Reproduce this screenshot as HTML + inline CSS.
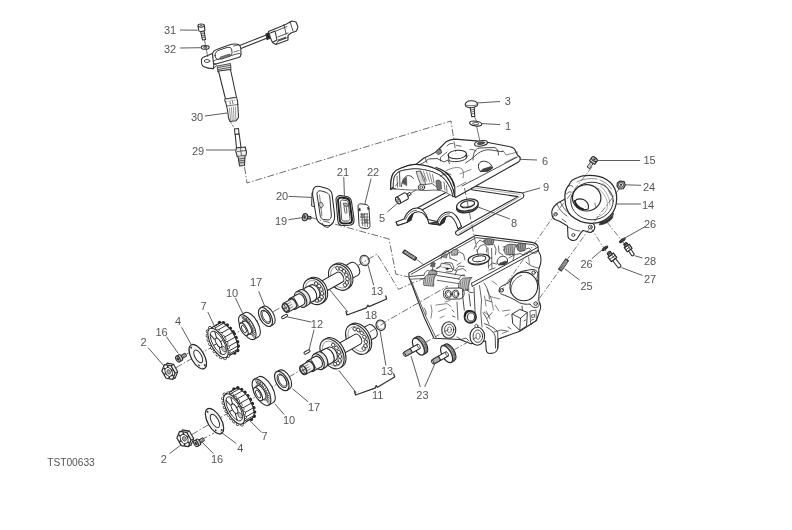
<!DOCTYPE html>
<html><head><meta charset="utf-8"><style>
html,body{margin:0;padding:0;background:#fff;width:792px;height:530px;overflow:hidden}
svg{display:block;filter:blur(0.4px)}
text{font-family:"Liberation Sans",sans-serif;font-size:11px;fill:#555}
</style></head><body>
<svg width="792" height="530" viewBox="0 0 792 530">
<rect width="792" height="530" fill="#fff"/>
<g stroke="#444" stroke-width="0.78" fill="none" stroke-dasharray="7,2,1.5,2" stroke-linecap="butt">
  <path d="M165,374 L284,305.5"/>
  <path d="M181,441 L300,370.5"/>
  <path d="M183,356 L196,349"/>
  <path d="M201,440 L214,433"/>
            
  
</g>

<!-- coil 30 -->
<g stroke="#333" stroke-width="1.08" fill="#fff" stroke-linejoin="round" stroke-linecap="round">
  <!-- wire -->
  <path d="M237,46.5 L267.5,34.5 L268.5,37.5 L238.5,49.5 Z" fill="#fff"/>
  <path d="M266,34 L270,32 L271,38 L267,39.5 Z" fill="#222"/>
  <!-- connector -->
  <path d="M268.5,31.5 L282,26 L286.5,24 L292,21 L296,22 L298,27 L296.5,31 L291,33 L288,35.5 L288,40 L276,44.5 L272.5,42.5 L270.5,38 Z" fill="#fff"/>
  <path d="M270.5,33 L275,31 L277,40 L273,42" fill="none"/>
  <path d="M276,31 L287,26.5 M278,37 L288,33 M284,24.5 L286,34 M290,21.5 L293,31 M276,44.5 L278,41 L288,37.5" fill="none" stroke-width="0.84"/>
  <path d="M278,39.5 L286,36.5 L286,38.5 L278,41.5 Z" fill="#555" stroke="none"/>
  <!-- flange bracket -->
  <path d="M201.5,61 C201,59 202,57.8 204,57 L212.5,53.4 L214,62 L213.5,68.6 C210,68.5 205,67.5 202.8,66 C201.5,64.8 201.3,63 201.5,61 Z"/>
  <ellipse cx="207" cy="61" rx="2.8" ry="1.5" fill="#fff" stroke-width="0.84"/>
  <path d="M212.5,53.5 C213,51.5 215,50 218,49 L229,45 C232,44 236,43.8 238.5,44.6 C240,45.2 240.6,46.5 240.8,48.5 L241,54.5 C241,56 240,57 238.5,57.5 L216,64 C214.5,64.4 213.5,63.5 213.3,62 Z"/>
  <path d="M213.3,61.5 C214,60.5 215.5,60 217,59.6 L238,53.6 C239.5,53.2 240.6,53.8 241,54.5" fill="none" stroke-width="0.84"/>
  <path d="M215,55.5 C214.8,53 216.5,51 219.5,50 L226,47.8 C229.5,46.8 231.5,47.6 231.8,50 L232,52.5 C232,54.5 230.5,55.6 228,56.4 L219,59 C216.5,59.6 215.2,58.2 215,55.5 Z" fill="#fff" stroke-width="0.96"/>
  <path d="M220.5,57 L229.5,54 L229.8,56.5 L221,59.3 Z" fill="#777" stroke-width="0.60"/>
  <path d="M233.5,46 L238.5,45 M234,52 L239,50.5" fill="none" stroke-width="0.72"/>
  <path d="M213.5,68.6 L216.5,65.5 M213.5,64 L216,64" fill="none" stroke-width="0.84"/>
  <!-- tube -->
  <path d="M217.5,66 L230.5,63.5 L231,70 L218.2,72 Z" fill="#ddd" stroke-width="0.84"/>
  <path d="M218,67.5 L230.5,65.3 M218,69.5 L230.8,67.3" fill="none" stroke-width="0.72"/>
  <path d="M218.5,71 L225.5,99 L236.5,97.5 L230.5,69.5 Z"/>
  <path d="M225,99 L236.8,97.3 L237.2,100.3 L225.4,102 Z" fill="#eee" stroke-width="0.84"/>
  <path d="M225.5,101.5 L227.5,110 L228.5,118 L230,121.5 L236,120.8 L238.5,117.5 L238,109 L237.5,100" fill="#fff"/>
  <path d="M227,106 L238,104.5" fill="none" stroke-width="0.72"/>
  <path d="M229.5,108 L230.5,120 M231.5,107.5 L232.2,120.5 M233.5,107.2 L234,120.5 M235.5,107 L235.8,120" fill="none" stroke-width="0.60" stroke="#555"/>
  <path d="M230,101.6 L230.4,104 M232.5,101.3 L233,103.7" fill="none" stroke-width="0.72"/>
</g>
<!-- screw 31 + washer 32 -->
<g stroke="#333" stroke-width="1.08" fill="#fff" stroke-linejoin="round">
  <path d="M200.5,31 L202.5,40 L205.5,39.5 L204,30.5 Z" fill="#eee"/>
  <path d="M201.3,33.5 L204.5,33 M201.7,35.5 L204.8,35 M202.1,37.5 L205.1,37" fill="none" stroke-width="0.72"/>
  <path d="M198,26 L198.8,30.8 C199.5,31.8 204,31.6 204.9,30.4 L204.3,25.4 Z" fill="#fff"/>
  <ellipse cx="201.2" cy="25.6" rx="3.2" ry="1.6" fill="#fff"/>
  <ellipse cx="201.2" cy="25.6" rx="1.2" ry="0.7" fill="#444" stroke="none"/>
  <ellipse cx="205.2" cy="47.4" rx="4" ry="1.8" fill="#fff"/>
  <ellipse cx="205.2" cy="47.3" rx="1.6" ry="0.8" fill="#fff" stroke-width="0.84"/>
</g>
<!-- spark plug 29 -->
<g stroke="#333" stroke-width="1.08" fill="#fff" stroke-linejoin="round">
  <path d="M234.5,129 L238.5,128.5 L239,134 L235,134.5 Z"/>
  <path d="M235.2,134.5 L236.5,148 L241,147.5 L239.2,134 Z"/>
  <path d="M236.3,148 L235.8,151 L237.2,156.5 L246,155.5 L246.5,152 L245.2,147 Z" fill="#eee"/>
  <path d="M237,151.5 L246,150.5 M240.5,148 L241.5,156" fill="none" stroke-width="0.72"/>
  <path d="M238,156.5 L239.5,166 L244.5,165.5 L245,156" fill="#ccc"/>
  <path d="M238.5,159 L244.8,158.3 M238.8,161 L244.9,160.3 M239.1,163 L244.9,162.3" fill="none" stroke-width="0.72"/>
</g>
<!-- leaders -->
<g stroke="#555" stroke-width="0.96" fill="none">
  <path d="M180,30 L197.5,30.2"/>
  <path d="M180,48 L200.8,47.7"/>
  <path d="M205,116 L227,113"/>
  <path d="M206,150 L236,150"/>
  <path d="M204.5,40 L207.8,57" stroke="#444" stroke-width="0.72"/>
  <path d="M230.5,122 L234.5,128.5" stroke="#444" stroke-width="0.72" stroke-dasharray="2,1.5"/>
</g>

<!-- gasket 9 (behind cover) -->
<g stroke="#2a2a2a" stroke-width="1.08" fill="none" stroke-linejoin="round" stroke-linecap="round">
  <path d="M417.8,207.8 L452,189.2 L453.6,192.6 L419.8,211.2 Z" fill="#fff"/>
  <path d="M472,185.8 L521.6,192.8 C524,193.3 524.6,196.6 522.8,197.9 L459.3,234.8 C456.4,236.2 454.5,233.2 456.3,231.2 L518,196.6 L471.6,189.8 Z" fill="#fff"/>
  <path d="M472,187.6 L520,194.4 M459.5,232.8 L520.5,196.4" stroke-width="0.60" stroke="#777"/>
  <!-- arches -->
  <path d="M396,222 L404,219 C406,213 411,208 417,208 C422,208 426,213 428,219.5 L437,221.5 C440,215 444,211.5 449.5,212 C455,212.5 459,219 461.5,226.5 L458,229 C456,222 453,216.5 449,216 C445,215.8 442,219.5 440,225 L429,223.5 C427,216.5 423,212 418.5,211.8 C413,211.6 409.5,216 407,222.5 L397.5,225.5 Z" fill="#fff"/>
  <path d="M405.5,219.5 C407.5,214.5 411.5,210.5 416.5,210.3 M438.5,221.8 C441,216.5 445,213.5 449.5,213.8" stroke-width="0.72"/>
  <path d="M407,222.5 C408,218.5 410,215.5 413,214 L411,220 Z M440,225 C441,221 443,218 446,216.8 L444,222.5 Z" fill="#333"/>
  <path d="M429,223.5 L437,221.5 L440,225 L429,223.5" fill="#555"/>
  <path d="M396,222 L397.5,225.5 L404.5,223.3" stroke-width="0.72"/>
</g>
<!-- seal 8 -->
<g stroke="#2a2a2a" stroke-width="1.20" fill="#fff">
  <ellipse cx="467.4" cy="206.8" rx="11" ry="5.8" transform="rotate(-12 467.4 206.8)" fill="#666"/>
  <ellipse cx="467.4" cy="205" rx="11" ry="5.8" transform="rotate(-12 467.4 205)"/>
  <ellipse cx="467.6" cy="204.2" rx="7.2" ry="3.3" transform="rotate(-12 467.6 204.2)" fill="#fff"/>
  <path d="M460.5,206 C463,207.8 471,207.5 475,203.5" fill="none" stroke-width="0.72"/>
</g>
<!-- part 5 -->
<g transform="translate(398 200.5) rotate(-29.5)" stroke="#2a2a2a" stroke-width="1.08" fill="#fff" stroke-linejoin="round">
  <path d="M9,-1.3 L14.5,-1.3 L14.5,1.3 L9,1.3 Z" fill="#fff" stroke-width="0.84"/>
  <path d="M11,-1.3 L11,1.3 M12.5,-1.3 L12.5,1.3" stroke-width="0.60" fill="none"/>
  <path d="M0,-3.6 L9,-3.6 A1.8,3.6 0 0 1 9,3.6 L0,3.6 Z" fill="#fff"/>
  <ellipse cx="0" cy="0" rx="2" ry="3.6" fill="#fff"/>
  <ellipse cx="0.1" cy="0" rx="1" ry="1.8" fill="#fff" stroke-width="0.72"/>
</g>
<!-- cam cover 6 -->
<g stroke="#2a2a2a" stroke-width="1.20" fill="#fff" stroke-linejoin="round" stroke-linecap="round">
  <path d="M390.7,189.5 C390.5,183 391.2,177 393.3,173.3 C398,168.5 408,165.2 416,164.4 L424,158 C430,155.5 436,153 439,149 L446,141.8 C449,140 452,139.2 455,139.2 L476,140.8 L488,142.5 L509,146.5 C512,147 514,148 515,150 L517.5,155 C519,156 520.5,157 520.3,159 C520,160.5 519.5,161.5 518.5,162 L456,197.3 C455.3,197.6 454.8,197.2 454.8,196.3 L454.8,187 C454,182 452,178 447,173 C443,170 440,168.5 436,167.5 L440,169 C447,172 452,178 454,186" />
  <!-- arch face -->
  <path d="M390.7,189.5 C390.5,183 391.2,177 393.3,173.3 C395.5,170.5 398,169 401.3,168 C405.5,166 410,164.8 414.5,164.4 C419,164.2 423.5,165 427.8,166.2 C433,167.7 437.5,169.3 441,171.5 C445,174.5 448,178 450,182 C452.5,186.5 454,191 454.6,196.5 L452.6,196.3 C452,191.5 450.5,188 448.2,184.8 C446,180.5 443,177.5 439.3,175 C435.5,172.8 431.5,171.3 427.8,170.6 C423.5,169.5 419,168.8 414.5,168.8 C409,169.2 403.5,170 399.5,171.5 C397,173 395,175 394.2,177.7 C393.4,181 393.2,184.5 393.3,188.3 Z" fill="#fff"/>
  <!-- hollow inside arch -->
  <path d="M393.3,188.3 C393.2,184.5 393.4,181 394.2,177.7 C395,175 397,173 399.5,171.5 C403.5,170 409,169.2 414.5,168.8 C419,168.8 423.5,169.5 427.8,170.6 C431.5,171.3 435.5,172.8 439.3,175 C443,177.5 446,180.5 448.2,184.8 C450.5,188 452,191.5 452.6,196.3 L447,193 L441,190.5 L434,190 L426,190.5 L418,190 L410,190 L402,189.5 L396,189 Z" fill="#fff" stroke-width="0.72"/>
  <path d="M399.5,171.5 L400,186.5 M401.5,186.5 C402,181 403.5,177.5 406.5,176 C409.5,175 412,176 413.5,178.5" fill="none" stroke-width="0.84"/>
  <path d="M402.5,183 C403,180 404.5,178 406.5,177.3 L406.8,185.5 Z" fill="#555" stroke-width="0.48"/>
  <path d="M397,176 L397.5,187 M395.5,186 L398,183" fill="none" stroke-width="0.66"/>
  <path d="M416.5,171.5 L420.5,171 L424.5,178.5 L425.5,184.5 L421,185.5 L418.5,179 Z" fill="#ddd" stroke-width="0.72"/>
  <path d="M420.5,171.2 L423.5,181 M423.5,171.5 L426.5,181 M426.5,172 L429.5,181.5 M429.5,173 L432,182.5 M432.5,174.5 L434,183" fill="none" stroke="#444" stroke-width="0.66"/>
  <path d="M425.5,184.5 L432,183.5 L436,186.5" fill="none" stroke-width="0.72"/>
  <path d="M436.2,181 C437.5,179.3 440,179.8 441,182 L441.5,189 L437.5,190 C436.5,187 436,184 436.2,181 Z" fill="#777" stroke-width="0.60"/>
  <path d="M444,182 L445,190 M446.5,185.5 L447,192" fill="none" stroke-width="0.66"/>
  <ellipse cx="421.5" cy="187.3" rx="3.2" ry="2.9" fill="#fff" stroke-width="0.96"/>
  <ellipse cx="421.3" cy="187.3" rx="1.4" ry="1.3" fill="#fff" stroke-width="0.72"/>
  <path d="M390.7,189.5 L392.5,187 L394,189.5 M393.3,188.3 L396,189" fill="none" stroke-width="0.72"/>
  <!-- top surface details -->
  <path d="M420,164.5 C424,163 426,161 428.5,159 L437,158.5 L444,162 L448,160 L449.5,163.5" fill="none" stroke-width="0.84"/>
  <path d="M425,157.5 L427,163" fill="none" stroke-width="0.72"/>
  <path d="M436,152.2 L438,149 L441,149.5 L441.5,153 L438.5,154.5 Z" fill="#888" stroke-width="0.72"/>
  <path d="M440.5,161 L440.5,157.5 L447,152 M466,158.5 L468,155.5" fill="none" stroke-width="0.72"/>
  <ellipse cx="457.3" cy="154.5" rx="9.2" ry="4.2" transform="rotate(-5 457.3 154.5)" fill="#fff" stroke-width="1.08"/>
  <path d="M448.2,155 L449,160.5 C452,162.5 462,162 466.3,158.5 L466.5,154" fill="none" stroke-width="0.96"/>
  <path d="M447,146 C448,144 451,143 453,143.5 M456,145.3 L461,146.3 M470,149.5 C472,149 474,150 476,151" fill="none" stroke-width="0.72"/>
  <path d="M465.5,163 C470,160 473,158 476,155 C479,152 485,149 491,150 C496,150.5 500,152 503,151.5" fill="none" stroke-width="0.84"/>
  <ellipse cx="481" cy="143.4" rx="6.5" ry="2.6" transform="rotate(-10 481 143.4)" fill="#fff" stroke-width="1.08"/>
  <ellipse cx="481" cy="143.2" rx="3.8" ry="1.3" transform="rotate(-10 481 143.2)" fill="#555" stroke-width="0.60"/>
  <path d="M478.5,165 C479,162 482,160.5 486,161.5 C490,162.5 492,165.5 492.5,168 L488,171 L480.5,171.5 C478.5,169.5 478.2,167 478.5,165 Z" fill="#fff" stroke-width="0.96"/>
  <path d="M480.5,171.5 L488,171 L492.5,168 L491,166.5 L483,169 Z" fill="#444" stroke-width="0.60"/>
  <path d="M446,170.5 C452,168 458,166 462,169 C464,172 464,175 463,178 M460,174 L471,169.5 M457,187 L466,182 M503,150.5 L506,155 L518,152 M505,162.5 L516,157" fill="none" stroke-width="0.72" stroke="#555"/>
  <path d="M462,186 L492.5,170 L517.4,157" fill="none" stroke-width="0.84"/>
  <path d="M473,160 C473,153 475,149 479,148 L494,147.5 C497,148 498.5,151 498.5,155" fill="none" stroke-width="0.84"/>
  <path d="M440.5,176 C444,174 448,173 451,174.5" fill="none" stroke-width="0.72"/>
</g>
<!-- screw 3, washer 1 -->
<g stroke="#333" stroke-width="1.08" fill="#fff" stroke-linejoin="round">
  <path d="M470,107 L471.8,116.8 L474.8,116.4 L474.2,106.6 Z" fill="#fff"/>
  <path d="M470.8,110 L474.4,109.5 M471.2,112 L474.6,111.5 M471.5,114 L474.7,113.5" fill="none" stroke-width="0.72"/>
  <path d="M465.2,104.6 C465.5,102 468,100.8 471.2,100.7 C474.5,100.6 477.2,101.8 477.6,104.2 C477.8,106 475,107.6 471.5,107.7 C468,107.8 465,106.6 465.2,104.6 Z" fill="#fff"/>
  <path d="M465.4,104.8 C467,106 475,106 477.5,104.5" fill="none" stroke-width="0.72"/>
  <ellipse cx="475.7" cy="123.6" rx="6.1" ry="2.3" transform="rotate(8 475.7 123.6)" fill="#fff"/>
  <ellipse cx="475.7" cy="123.4" rx="3.2" ry="1.1" transform="rotate(8 475.7 123.4)" fill="#fff" stroke-width="0.72"/>
</g>
<g stroke="#555" stroke-width="0.96" fill="none">
  <path d="M476.5,103 L500,101.5"/>
  <path d="M481,123.5 L500,124.6"/>
  <path d="M519.7,159.3 L537,160"/>
  <path d="M522,193 L540,188"/>
  <path d="M478,207 L510,219"/>
  <path d="M387.3,212 L397.4,203.4"/>
  <path d="M474.5,117 L476.5,121 M476.5,126 L480,141.5" stroke="#444" stroke-width="0.72"/>
</g>

<!-- cylinder head -->
<g stroke="#2a2a2a" stroke-width="1.08" fill="#fff" stroke-linejoin="round" stroke-linecap="round">
  <!-- silhouette -->
  <path d="M408.8,273.1 L475.8,235.3 L532,242.4 C535,243 537,244 538,246.5 L538.3,251 C540.5,254 541.5,259 540.5,264 L538.8,269 L538.5,301.5 C540.5,303 541,306 540.3,309 L536.5,320.5 L519.8,331.3 L498.5,339 L497.8,348 C497.5,351 495.5,353 491,353.4 C488,353.6 486.5,352.5 486.2,350 L485.6,341 L471,343.8 L460,339.5 L434,338.2 L424.6,318.3 L412,285 L409,277.5 Z"/>
  <!-- rim lines -->
  <path d="M411.2,274.3 L476.2,237.6 L532.5,244.6 C534.5,245 535.5,246 536,247" fill="none" stroke-width="0.84"/>
  <path d="M538,247.2 L471.3,283.4 M538.2,250.2 L472.2,286.4" fill="none" stroke-width="0.96"/>
  <path d="M409.6,276.5 L424,275.2 M437,275.5 L459,279 M471.5,283.5 L472.2,286.4" fill="none" stroke-width="0.84"/>
  <path d="M410,279.2 L423.8,278.5 M437.3,280.3 L458.8,283.6" fill="none" stroke-width="0.72"/>
  <!-- left face inner edge -->
  <path d="M411.3,281 L426.5,318 L436,337.6" fill="none" stroke-width="0.72"/>
  <!-- saddle 1 -->
  <path d="M423.8,285 C423,280 424.5,276 428,274.5 L437,273.8 C434,276.5 433,280.5 433.8,285.8 Z" fill="#d0d0d0" stroke-width="0.72"/>
  <path d="M425.2,284 L425.8,277.5 M427,284.6 L428.2,275.6 M428.8,285 L430.3,275 M430.6,285.3 L432.4,274.6 M432.4,285.5 L434.5,274.2" fill="none" stroke="#555" stroke-width="0.66"/>
  <path d="M428.6,273 C429,270.5 431,269.5 433.5,269.8 L436.5,271 L437,274 L429,274.5 Z" fill="#aaa" stroke-width="0.60"/>
  <path d="M424,275 C425,271.5 427,270 429,270.5" fill="none" stroke-width="0.72"/>
  <!-- saddle 2 -->
  <path d="M458.6,289.6 C458,284.5 459.5,280 463,278.2 L472,277.4 C469,280.5 468.2,284.5 468.8,290 Z" fill="#d0d0d0" stroke-width="0.72"/>
  <path d="M460,288.6 L460.8,282 M461.8,289.2 L463,280 M463.6,289.6 L465.2,279 M465.4,290 L467.2,278.5 M467.2,290.2 L469.5,278" fill="none" stroke="#555" stroke-width="0.66"/>
  <path d="M459,279.5 C460,276 462,274.5 464.5,275" fill="none" stroke-width="0.72"/>
  <!-- back towers / details on top face -->
  <path d="M430.5,266 L432,262.3 L435.2,263 L434.5,266.5 Z" fill="#666" stroke-width="0.60"/>
  <path d="M432,271 L433,266.5 M437,268.5 L441,266 L444,263 L446,262.5 L452,263 L454,268 L452,271.5 L446,272 M446.5,267.5 L448,266.8" fill="none" stroke-width="0.72"/>
  <path d="M445.6,268.5 L447.8,266.5 L449.5,268.2 L447.3,270 Z" fill="#222" stroke-width="0.48"/>
  <path d="M441,259 L442.5,253 L446,250.5 L449,252 L450,258 M450,258 L457,261 M455,255 L459.5,252 L463.5,254 L465,260 M457,265 L461,262.5" fill="none" stroke-width="0.72"/>
  <path d="M443,257 L444.5,253.8 L447.5,254.5 L446.5,257.8 Z" fill="#888" stroke-width="0.48"/>
  <path d="M455.5,270 L459,266 L464,266.5 M455,275 L457,270 L463,268.5 L466,271" fill="none" stroke-width="0.72"/>
  <path d="M474,249 L477,243 L480,240 L483,242 M477,251 L480,246 L484,244.5 L487,247 L486.5,252" fill="none" stroke-width="0.72"/>
  <path d="M483.8,241 C484.5,239 487,238.3 489.5,238.7 L494,239.5 L493,244.5 L488,245 C485.5,244.8 484,243.5 483.8,241 Z" fill="#999" stroke-width="0.72"/>
  <path d="M485.5,240.5 L486,244 M487.5,239.8 L488.2,244.5 M489.6,239.7 L490.3,244.6 M491.5,240 L491.8,244.5" fill="none" stroke="#444" stroke-width="0.60"/>
  <path d="M494,244.5 L496,249 L495.5,254.5 M498.5,246 L499,252.5 L503,255 M503,247 L507,246 L510,250 L510,255.5" fill="none" stroke-width="0.72"/>
  <path d="M516.6,246 C517,244 519,243 521.5,243.3 L525.6,244.2 L525,250.5 L520,251.5 C518,251.2 516.8,249 516.6,246 Z" fill="#999" stroke-width="0.72"/>
  <path d="M518.3,244.8 L518.8,250.5 M520.4,244 L521,251 M522.5,244 L523,250.8" fill="none" stroke="#444" stroke-width="0.60"/>
  <path d="M512,250.5 L514,256 L513,260 M509,258 L514,255 L520,253.5 L524,255 M526,249 L529,248 L531,250" fill="none" stroke-width="0.72"/>
  <!-- extra top details -->
  <path d="M504,250 C504,246.5 506.5,244.5 510,244.3 L516.5,244.8 C514.5,247 513.8,250 514.3,254.5 L506.5,254.8 C505,253.5 504.2,252 504,250 Z" fill="#bbb" stroke-width="0.72"/>
  <path d="M506,247 L507,254 M508,245.5 L509,254.5 M510,245 L511,254.6 M512,245 L512.6,254.5" fill="none" stroke="#444" stroke-width="0.60"/>
  <path d="M451,253 C451,250.5 453,249.3 455.5,249.4 L458.5,250 C457.5,251.5 457.2,253 457.5,255 L452,255.2 Z" fill="#aaa" stroke-width="0.60"/>
  <path d="M488,248 L488.5,268 M491.6,248.5 L492,268.5 M488.3,258 L491.8,258" fill="none" stroke-width="0.72"/>
  <path d="M433.3,270.7 L465,276 M436,268.5 L440,266.5 L452,268.5 L456,271" fill="none" stroke-width="0.72"/>
  <path d="M440,266.5 L441.5,263 L450,264.5 L452,268.5" fill="#eee" stroke-width="0.72"/>
  <!-- oval detail -->
  <path d="M497,262 C497.5,258 500.5,256 503.5,256.3 C506.5,256.8 508,259 507.5,262 L505,264.5 L499,264.8 Z" fill="#fff" stroke-width="0.96"/>
  <path d="M499,264.8 L505,264.5 L507.5,262 L505.5,261 L500,263 Z" fill="#444" stroke-width="0.48"/>
  <path d="M489,266 L492.5,263 L496.5,264 M489,270 L495,268" fill="none" stroke-width="0.72"/>
  <!-- plug hole -->
  <ellipse cx="478.8" cy="259.4" rx="10.8" ry="5.2" transform="rotate(-8 478.8 259.4)" fill="#fff" stroke-width="1.20"/>
  <ellipse cx="479.2" cy="258.8" rx="6.6" ry="2.8" transform="rotate(-8 479.2 258.8)" fill="#fff" stroke-width="0.96"/>
  <path d="M468.5,260 L468.8,262 C471,264.5 482,265 488.5,261" fill="none" stroke-width="0.72"/>
  <!-- right bulge -->
  <path d="M524,254 C527,251 532,251.5 535,253.5 L538.3,251 M526,262 C530,266 535,267.5 538.6,268" fill="none" stroke-width="0.72"/>
  <path d="M528.5,257 L529.5,264" fill="none" stroke-width="0.60"/>
  <!-- bores on left face -->
  <path d="M443.5,292 C443.5,289.6 445.5,288.3 448,288.2 L459.5,288 C462.5,288.2 464.3,290.5 464.2,293.5 C464,296.8 462,299 459,299 L447.5,299.2 C445,299.1 443.5,297.3 443.5,295 Z" fill="#fff" stroke-width="0.90"/>
  <ellipse cx="448.2" cy="294.2" rx="3.2" ry="3.8" fill="#fff" stroke-width="0.96"/>
  <ellipse cx="448.6" cy="294.2" rx="2" ry="2.5" fill="#fff" stroke-width="0.66"/>
  <ellipse cx="455.6" cy="293.9" rx="3.2" ry="3.8" fill="#fff" stroke-width="0.96"/>
  <ellipse cx="456" cy="293.9" rx="2" ry="2.5" fill="#fff" stroke-width="0.66"/>
  <!-- vertical arm -->
  <path d="M462.6,290 L462.6,295.6 L464.3,310.3 M474,287.6 L474.5,300 L475.1,312.6 M469,294 L470.5,306 M466.5,289 C468,292 470,293 473,292.5" fill="none" stroke-width="0.84"/>
  <!-- rib structure on left face -->
  <path d="M479.5,285.5 L481.5,300 L480.8,313 L482,327 M484,283 C487,287 489,292 489.5,299 M486,300 L492,302 M483,312.6 L486.5,318 L489,324 M487.5,318 L492,312.6" fill="none" stroke-width="0.72"/>
  <path d="M436,305 L447,303.6 L451,306.5 M438.5,311.5 L446,308.5 M440,318 L444,316 M431,305 L432,311 L431,318 M445,302 L450,300.5" fill="none" stroke-width="0.66" stroke="#444"/>
  <path d="M452,310 L454,312 M452.5,316 L455,317 M457,302 L458,320" fill="none" stroke-width="0.72"/>
  <path d="M424,308 C425.5,310 426.5,312 426,315" fill="none" stroke-width="0.72"/>
  <!-- seal seats -->
  <ellipse cx="448.8" cy="330" rx="7" ry="8.3" fill="#fff" stroke-width="1.08"/>
  <ellipse cx="449.2" cy="329.8" rx="4.6" ry="5.6" fill="#fff" stroke-width="0.84"/>
  <ellipse cx="449.4" cy="329.8" rx="2" ry="3" fill="#fff" stroke-width="0.60"/>
  <ellipse cx="470.3" cy="316.9" rx="5.8" ry="6" fill="#ddd" stroke-width="1.68"/>
  <ellipse cx="471" cy="317" rx="3.5" ry="4.1" fill="#fff" stroke-width="0.96"/>
  <path d="M464.8,316 C464.8,312.5 467,310.8 469.5,311" fill="none" stroke="#222" stroke-width="2.16"/>
  <ellipse cx="477.3" cy="336.2" rx="7.3" ry="9" fill="#fff" stroke-width="1.08"/>
  <ellipse cx="477.8" cy="336.2" rx="4.8" ry="6.2" fill="#fff" stroke-width="0.84"/>
  <ellipse cx="478" cy="336.2" rx="2.2" ry="3.2" fill="#fff" stroke-width="0.60"/>
  <circle cx="476.4" cy="326" r="1.6" fill="#fff" stroke-width="0.72"/>
  <!-- tab -->
  <path d="M484.5,323.7 C489,325 495,328 497.8,332 L497.8,348 M486.5,327 C490,329 494,332 495.2,336 L495.5,348" fill="none" stroke-width="0.84"/>
  <!-- exhaust flange -->
  <path d="M499.2,291 C498.8,288.5 500,287 502,286 L509,282.5 C512,276 518,271.5 526,270.5 L531,269.6 C534.5,269 537.5,270.5 537.8,273.5 C538,276 537.2,277.5 536.8,278.5 C539,283 539.8,289 539,295 C538.8,298 538.6,300 539.2,302 C540,305 538.5,307.3 535.8,307.5 C533,307.6 531,306 530.2,304 C527,304.5 523,304.2 519.5,302.8 L514,299.5 C511,298 508,296.5 504.5,295.2 C501.5,294.6 499.5,293.2 499.2,291 Z" fill="#fff" stroke-width="0.96"/>
  <ellipse cx="523.8" cy="286.4" rx="13.8" ry="14.3" fill="#fff" stroke-width="1.08"/>
  <path d="M511,293 C510,285 514,278 521.5,275.5" fill="none" stroke-width="0.72"/>
  <circle cx="501.8" cy="290.2" r="1.7" fill="#fff" stroke-width="0.96"/>
  <circle cx="533.6" cy="272.6" r="1.7" fill="#fff" stroke-width="0.96"/>
  <circle cx="535.7" cy="303.6" r="1.8" fill="#fff" stroke-width="0.96"/>
  <!-- lower right box -->
  <path d="M512.2,314 L519.8,309.4 L527.3,312.4 L526.6,326 L519.8,330.5 L513,323.7 Z" fill="#fff" stroke-width="0.96"/>
  <path d="M512.2,314 L520.5,318.3 L527.3,312.4 M520.5,318.3 L519.8,330.5 M522.5,310.5 L522,306 M524,321 L525.5,320" fill="none" stroke-width="0.84"/>
  <path d="M530.3,311 L536,310 L536.4,320 L531,324.5 Z" fill="none" stroke-width="0.72"/>
  <path d="M532,315 L534.5,314.5 L534.5,317 L532,317.5 Z M531.5,320 L533.5,319.5" fill="none" stroke-width="0.72"/>
  <!-- misc details right face -->
  <path d="M487,290 L491,298 L493.5,310 M490.4,296.6 L500,299 M484,312 L488,314.7 L490,319 M486,311 L489,316 M502.4,311 L510,310 M505,316 L509,314 M498.7,338.8 L506,336 M502,333.5 L508.5,331 M492,281 L497,284.5 M484.5,296 L486,306 M495,305 L499,311" fill="none" stroke-width="0.66" stroke="#444"/>
  <path d="M494,332 L501,330 L507,331 M508,327 L511,329" fill="none" stroke-width="0.72"/>
  <path d="M457,337 L461,339.5 L466,338 L469,341" fill="none" stroke-width="0.72"/>
</g>
<!-- stud on head -->
<g stroke="#222" stroke-width="1.08" fill="#888" stroke-linejoin="round">
  <path d="M402.6,252.6 L404.6,250 L416.6,257.6 L414.8,260.4 Z"/>
  <path d="M405,253 L406.5,251 M407,254.5 L408.5,252.2 M409,255.7 L410.5,253.5 M411,257 L412.5,254.8 M413,258.3 L414.5,256" fill="none" stroke="#ddd" stroke-width="0.60"/>
</g>
<g stroke="#444" stroke-width="0.72" fill="none">
  <path d="M416,259 L424,265"/>
</g>

<!-- manifold 14 -->
<g stroke="#2a2a2a" stroke-width="1.08" fill="#fff" stroke-linejoin="round" stroke-linecap="round">
  <!-- flange -->
  <path d="M552,214.5 C551,211 553,207 557,203.5 L566,198.5 L574,212 L590,222 C594,223 595.5,226 594.5,229 C593,232 590,233 587,231.5 L583,230.5 C580,233 579,236 576.5,239.5 C573,241.5 569,240 568,237 L567.5,226 L560,221.5 L555,219.5 C553,218.5 552,216.5 552,214.5 Z"/>
  <path d="M568,227 C572,229 576,231 580,231" fill="none" stroke-width="0.72"/>
  <circle cx="555.5" cy="214.2" r="1.7" fill="#fff" stroke-width="0.84"/>
  <circle cx="590.3" cy="227" r="1.9" fill="#fff" stroke-width="0.84"/>
  <circle cx="573.3" cy="235" r="1.5" fill="#fff" stroke-width="0.84"/>
  <path d="M557,204 C559,209 562,213 567,216 M560,201.5 C564,210 570,216 580,221 M562,219 L566,222 M585,222 L588,217" fill="none" stroke-width="0.72"/>
  <!-- body between flange and ring -->
  <path d="M566,199 C568,193 571,188 575,186 L597,212 C595,216 593,220 590,223 C582,221 576,216 572,211 Z" fill="#fff" stroke-width="0.84"/>
  <!-- ring outer -->
  <path d="M565,199 C564.5,193 566,188 569,185 C570,182 573,179 578,177.5 C582,175.5 588,175.2 594,175.6 C600,176 606,178.5 610.5,182.5 C614.5,186.5 616.8,192 616.7,198.5 C616.6,205 614.5,211.5 610,216 C605,221 598,223.5 590.5,223.3 C583,223 576,220 571,215.5 C567,211.5 565.2,205.5 565,199 Z" fill="#fff" stroke-width="1.20"/>
  <ellipse cx="592" cy="201" rx="21.2" ry="18.8" fill="#fff" stroke-width="0.96"/>
  <path d="M577,182 C582,179 590,178 597,179 M600,180 C605,182 609,185 611.5,189 M603,183.5 L607,187.5 M605,185.5 L609,190 M607,188 L610.5,193 M608.5,191 L611.5,196" fill="none" stroke-width="0.66" stroke="#555"/>
  <path d="M566.5,194 C568,192 569.5,191.5 571,192 M569,186 C571,185 572.5,185.5 573,187" fill="none" stroke-width="0.72"/>
  <!-- inner wall -->
  <path d="M598,188 C603,192 607,198 607.5,204 C608,210 604,215.5 597,217 M600.5,186 C606,191 610,198 610,205" fill="none" stroke-width="0.60" stroke="#777"/>
  <!-- bore -->
  <ellipse cx="586.7" cy="197.8" rx="14.2" ry="13.2" fill="#fff" stroke-width="1.20"/>
  <path d="M574.8,201 C576.5,199 580,198.5 583.5,199.5 C587,201 589,204.5 588.3,209 C584,210.2 579.5,209 576.5,206.5 Z" fill="#fff" stroke-width="1.08"/>
  <path d="M574.8,201 C575.5,204.5 578.5,207.5 583,209.2" fill="none" stroke="#222" stroke-width="1.80"/>
  <path d="M595,203 L595.5,207" fill="none" stroke-width="0.60"/>
  <!-- bottom dark band of ring -->
  <path d="M600,222.5 C606,221 611,217.5 613.5,213 L612.5,218 C609.5,222 605,224.5 599.5,225 Z" fill="#333" stroke-width="0.60"/>
</g>
<!-- screw 15 -->
<g transform="translate(593.5 160.5) rotate(-55)" stroke="#2a2a2a" stroke-width="1.08" fill="#fff" stroke-linejoin="round">
  <path d="M-9,-1.5 L-2,-1.5 L-2,1.5 L-9,1.5 Z" fill="#bbb" stroke-width="0.84"/>
  <path d="M-7.5,-1.5 L-7.5,1.5 M-6,-1.5 L-6,1.5 M-4.5,-1.5 L-4.5,1.5" stroke-width="0.60" stroke="#eee" fill="none"/>
  <path d="M-2.5,-3.2 L1.5,-3.2 A1.8,3.2 0 0 1 1.5,3.2 L-2.5,3.2 Z" fill="#ddd"/>
  <ellipse cx="1.5" cy="0" rx="1.8" ry="3.2" fill="#eee"/>
  <ellipse cx="1.5" cy="0" rx="0.8" ry="1.5" fill="#333" stroke="none"/>
</g>
<!-- nut 24 -->
<g stroke="#2a2a2a" stroke-width="1.08" fill="#aaa" stroke-linejoin="round">
  <path d="M617.3,183 L620,181 L624.2,181.6 L625.3,185.3 L623.4,188.8 L619.2,189 L617,186.4 Z"/>
  <ellipse cx="621" cy="184.8" rx="2.6" ry="2.2" fill="#eee" stroke-width="0.72"/>
  <ellipse cx="621" cy="184.8" rx="1.2" ry="1" fill="#333" stroke="none"/>
</g>
<!-- washers 26 -->
<g stroke="#222" stroke-width="0.96" fill="#444">
  <ellipse cx="605" cy="248.3" rx="3.4" ry="1.2" transform="rotate(-38 605 248.3)"/>
  <ellipse cx="622.4" cy="240.3" rx="3.4" ry="1.2" transform="rotate(-38 622.4 240.3)"/>
</g>
<!-- fitting 27 -->
<g transform="translate(608.8 252.8) rotate(52)" stroke="#2a2a2a" stroke-width="1.08" fill="#fff" stroke-linejoin="round">
  <path d="M8.100000000000001,-1.8 L17.200000000000003,-1.8 A1.08,1.8 0 0 1 17.200000000000003,1.8 L8.100000000000001,1.8 Z" fill="#fff"/>
  <path d="M2.9000000000000004,-3.4 L8.600000000000001,-3.4 L8.600000000000001,3.4 L2.9000000000000004,3.4 Z" fill="#fff" stroke-width="1.20"/>
  <path d="M2.9000000000000004,-1.02 L8.600000000000001,-1.02 M5.90,-3.4 L5.90,3.4" fill="none" stroke-width="0.72"/>
  <path d="M0,-1.9 L3.2,-1.9 L3.2,1.9 L0,1.9 Z" fill="#999" stroke-width="1.08"/>
  <ellipse cx="0" cy="0" rx="0.95" ry="1.9" fill="#777" stroke-width="0.96"/>
</g>
<!-- fitting 28 -->
<g transform="translate(625.3 243.8) rotate(55)" stroke="#2a2a2a" stroke-width="1.08" fill="#fff" stroke-linejoin="round">
  <path d="M7.1,-1.5 L13.2,-1.5 A0.90,1.5 0 0 1 13.2,1.5 L7.1,1.5 Z" fill="#fff"/>
  <path d="M2.5,-3.0 L7.6,-3.0 L7.6,3.0 L2.5,3.0 Z" fill="#fff" stroke-width="1.20"/>
  <path d="M2.5,-0.90 L7.6,-0.90 M5.20,-3.0 L5.20,3.0" fill="none" stroke-width="0.72"/>
  <path d="M0,-1.7 L2.8,-1.7 L2.8,1.7 L0,1.7 Z" fill="#999" stroke-width="1.08"/>
  <ellipse cx="0" cy="0" rx="0.85" ry="1.7" fill="#777" stroke-width="0.96"/>
</g>
<!-- stud 25 -->
<g transform="translate(563.5 265) rotate(-55)" stroke="#222" stroke-width="0.96" fill="#777">
  <path d="M-6.2,-1.7 L6.2,-1.7 L6.2,1.7 L-6.2,1.7 Z"/>
  <path d="M-4.5,-1.7 L-4.5,1.7 M-3,-1.7 L-3,1.7 M-1.5,-1.7 L-1.5,1.7 M0,-1.7 L0,1.7 M1.5,-1.7 L1.5,1.7 M3,-1.7 L3,1.7 M4.5,-1.7 L4.5,1.7" fill="none" stroke="#ccc" stroke-width="0.72"/>
</g>
<!-- dash lines & leaders -->
<g stroke="#444" stroke-width="0.72" fill="none" stroke-dasharray="6,2,1.5,2">
  <path d="M592,167 L555,214.2 L501.8,290.2"/>
  <path d="M619,189 L590.3,227"/>
  <path d="M590,227.8 L535.7,303.6"/>
  <path d="M590.3,227 L607.5,253.5"/>
  <path d="M607,222 L624.5,244"/>
</g>
<g stroke="#555" stroke-width="0.96" fill="none">
  <path d="M598,160.5 L640,160.5"/>
  <path d="M625,184.8 L641,185.3"/>
  <path d="M616,204 L641,204"/>
  <path d="M623.8,238.6 L645,226.7"/>
  <path d="M634.5,255.7 L642.5,258"/>
  <path d="M621.5,267.6 L642.5,275.5"/>
  <path d="M592,258.5 L602.7,249.4"/>
  <path d="M564.7,268.75 L579.5,280"/>
</g>

<g transform="translate(314.5 291.5) rotate(-29.5)" stroke="#2a2a2a" stroke-width="1.08" fill="#fff" stroke-linejoin="round">
<path d="M31.2,-7.2 L46,-7.2 A4.464,7.2 0 0 1 46,7.2 L31.2,7.2 Z" fill="#fff" stroke-width="1.08"/>
<ellipse cx="31.2" cy="0" rx="4.46" ry="7.2" fill="#fff" stroke-width="1.08"/>
<path d="M29,-13.8 L31.2,-13.8 A10.5,13.8 0 0 1 31.2,13.8 L29,13.8 Z" fill="#fff"/>
<ellipse cx="29" cy="0" rx="10.5" ry="13.8" fill="#fff"/>
<ellipse cx="29.3" cy="0" rx="8.61" ry="11.59" fill="none" stroke-width="0.60" stroke="#666"/>
<ellipse cx="31.37" cy="-8.82" rx="1.5" ry="2.0" fill="#fff" stroke-width="0.84"/>
<ellipse cx="33.97" cy="-6.54" rx="1.5" ry="2.0" fill="#fff" stroke-width="0.84"/>
<ellipse cx="35.58" cy="-2.95" rx="1.5" ry="2.0" fill="#fff" stroke-width="0.84"/>
<ellipse cx="35.87" cy="1.22" rx="1.5" ry="2.0" fill="#fff" stroke-width="0.84"/>
<ellipse cx="34.79" cy="5.16" rx="1.5" ry="2.0" fill="#fff" stroke-width="0.84"/>
<ellipse cx="32.55" cy="8.06" rx="1.5" ry="2.0" fill="#fff" stroke-width="0.84"/>
<ellipse cx="29.60" cy="9.35" rx="1.5" ry="2.0" fill="#fff" stroke-width="0.84"/>
<path d="M2.2,-5.6 L29,-5.6 A3.472,5.6 0 0 1 29,5.6 L2.2,5.6 Z" fill="#fff" stroke-width="1.08"/>
<ellipse cx="2.2" cy="0" rx="3.47" ry="5.6" fill="#fff" stroke-width="1.08"/>
<path d="M0,-13.8 L2.2,-13.8 A10.5,13.8 0 0 1 2.2,13.8 L0,13.8 Z" fill="#fff"/>
<ellipse cx="0" cy="0" rx="10.5" ry="13.8" fill="#fff"/>
<ellipse cx="0.3" cy="0" rx="8.61" ry="11.59" fill="none" stroke-width="0.60" stroke="#666"/>
<ellipse cx="5.31" cy="-6.03" rx="1.5" ry="2.0" fill="#fff" stroke-width="0.84"/>
<ellipse cx="6.69" cy="-2.43" rx="1.5" ry="2.0" fill="#fff" stroke-width="0.84"/>
<ellipse cx="6.82" cy="1.63" rx="1.5" ry="2.0" fill="#fff" stroke-width="0.84"/>
<ellipse cx="5.68" cy="5.38" rx="1.5" ry="2.0" fill="#fff" stroke-width="0.84"/>
<ellipse cx="3.47" cy="8.13" rx="1.5" ry="2.0" fill="#fff" stroke-width="0.84"/>
<ellipse cx="0.60" cy="9.35" rx="1.5" ry="2.0" fill="#fff" stroke-width="0.84"/>
<ellipse cx="-2.37" cy="8.82" rx="1.5" ry="2.0" fill="#fff" stroke-width="0.84"/>
<path d="M-4,-7.4 L0,-7.4 A4.588,7.4 0 0 1 0,7.4 L-4,7.4 Z" fill="#fff" stroke-width="1.08"/>
<ellipse cx="-4" cy="0" rx="4.59" ry="7.4" fill="#fff" stroke-width="1.08"/>
<path d="M-12,-7.8 L-4,-7.8 A4.836,7.8 0 0 1 -4,7.8 L-12,7.8 Z" fill="#fff" stroke-width="1.08"/>
<ellipse cx="-12" cy="0" rx="4.84" ry="7.8" fill="#fff" stroke-width="1.08"/>
<path d="M-8,-7.8 L-8,7.8 M-10,-7.8 L-10,7.8" stroke-width="0.72" fill="none"/>
<path d="M-16,-8.6 L-12,-8.6 A5.332,8.6 0 0 1 -12,8.6 L-16,8.6 Z" fill="#e6e6e6" stroke-width="1.08"/>
<ellipse cx="-16" cy="0" rx="5.33" ry="8.6" fill="#e6e6e6" stroke-width="1.08"/>
<path d="M-25,-6.0 L-16,-6.0 A3.7199999999999998,6.0 0 0 1 -16,6.0 L-25,6.0 Z" fill="#fff" stroke-width="1.08"/>
<ellipse cx="-25" cy="0" rx="3.72" ry="6.0" fill="#fff" stroke-width="1.08"/>
<path d="M-21,-6 L-21,6" stroke-width="0.72" fill="none"/>
<path d="M-33,-5.0 L-25,-5.0 A3.1,5.0 0 0 1 -25,5.0 L-33,5.0 Z" fill="#f0f0f0" stroke-width="1.08"/>
<ellipse cx="-33" cy="0" rx="3.10" ry="5.0" fill="#f0f0f0" stroke-width="1.08"/>
<path d="M-32,-2.5 L-26,-2.5 M-32,0 L-26,0 M-32,2.5 L-26,2.5" stroke-width="0.60" fill="none" stroke="#555"/>
<ellipse cx="-33" cy="0" rx="2.6" ry="4.2" fill="#ddd" stroke-width="0.96"/>
<path d="M-33,-4.2 L-33,-2 M-35,0 L-31,0 M-33,2 L-33,4.2" stroke-width="0.72" fill="none"/><ellipse cx="-33.2" cy="0" rx="1" ry="1.6" fill="#666" stroke="none"/>
</g>
<g transform="translate(332 353.8) rotate(-29.5)" stroke="#2a2a2a" stroke-width="1.08" fill="#fff" stroke-linejoin="round">
<path d="M31.7,-7.2 L46,-7.2 A4.464,7.2 0 0 1 46,7.2 L31.7,7.2 Z" fill="#fff" stroke-width="1.08"/>
<ellipse cx="31.7" cy="0" rx="4.46" ry="7.2" fill="#fff" stroke-width="1.08"/>
<path d="M29.5,-16.2 L31.7,-16.2 A10.5,16.2 0 0 1 31.7,16.2 L29.5,16.2 Z" fill="#fff"/>
<ellipse cx="29.5" cy="0" rx="10.5" ry="16.2" fill="#fff"/>
<ellipse cx="29.8" cy="0" rx="8.61" ry="13.61" fill="none" stroke-width="0.60" stroke="#666"/>
<ellipse cx="31.87" cy="-10.35" rx="1.5" ry="2.0" fill="#fff" stroke-width="0.84"/>
<ellipse cx="34.47" cy="-7.68" rx="1.5" ry="2.0" fill="#fff" stroke-width="0.84"/>
<ellipse cx="36.08" cy="-3.47" rx="1.5" ry="2.0" fill="#fff" stroke-width="0.84"/>
<ellipse cx="36.37" cy="1.44" rx="1.5" ry="2.0" fill="#fff" stroke-width="0.84"/>
<ellipse cx="35.29" cy="6.05" rx="1.5" ry="2.0" fill="#fff" stroke-width="0.84"/>
<ellipse cx="33.05" cy="9.46" rx="1.5" ry="2.0" fill="#fff" stroke-width="0.84"/>
<ellipse cx="30.10" cy="10.97" rx="1.5" ry="2.0" fill="#fff" stroke-width="0.84"/>
<path d="M2.2,-5.6 L29.5,-5.6 A3.472,5.6 0 0 1 29.5,5.6 L2.2,5.6 Z" fill="#fff" stroke-width="1.08"/>
<ellipse cx="2.2" cy="0" rx="3.47" ry="5.6" fill="#fff" stroke-width="1.08"/>
<path d="M0,-16.2 L2.2,-16.2 A10.5,16.2 0 0 1 2.2,16.2 L0,16.2 Z" fill="#fff"/>
<ellipse cx="0" cy="0" rx="10.5" ry="16.2" fill="#fff"/>
<ellipse cx="0.3" cy="0" rx="8.61" ry="13.61" fill="none" stroke-width="0.60" stroke="#666"/>
<ellipse cx="5.31" cy="-7.08" rx="1.5" ry="2.0" fill="#fff" stroke-width="0.84"/>
<ellipse cx="6.69" cy="-2.85" rx="1.5" ry="2.0" fill="#fff" stroke-width="0.84"/>
<ellipse cx="6.82" cy="1.91" rx="1.5" ry="2.0" fill="#fff" stroke-width="0.84"/>
<ellipse cx="5.68" cy="6.32" rx="1.5" ry="2.0" fill="#fff" stroke-width="0.84"/>
<ellipse cx="3.47" cy="9.54" rx="1.5" ry="2.0" fill="#fff" stroke-width="0.84"/>
<ellipse cx="0.60" cy="10.97" rx="1.5" ry="2.0" fill="#fff" stroke-width="0.84"/>
<ellipse cx="-2.37" cy="10.35" rx="1.5" ry="2.0" fill="#fff" stroke-width="0.84"/>
<path d="M-4,-7.4 L0,-7.4 A4.588,7.4 0 0 1 0,7.4 L-4,7.4 Z" fill="#fff" stroke-width="1.08"/>
<ellipse cx="-4" cy="0" rx="4.59" ry="7.4" fill="#fff" stroke-width="1.08"/>
<path d="M-12,-7.8 L-4,-7.8 A4.836,7.8 0 0 1 -4,7.8 L-12,7.8 Z" fill="#fff" stroke-width="1.08"/>
<ellipse cx="-12" cy="0" rx="4.84" ry="7.8" fill="#fff" stroke-width="1.08"/>
<path d="M-8,-7.8 L-8,7.8 M-10,-7.8 L-10,7.8" stroke-width="0.72" fill="none"/>
<path d="M-16,-8.6 L-12,-8.6 A5.332,8.6 0 0 1 -12,8.6 L-16,8.6 Z" fill="#e6e6e6" stroke-width="1.08"/>
<ellipse cx="-16" cy="0" rx="5.33" ry="8.6" fill="#e6e6e6" stroke-width="1.08"/>
<path d="M-25,-6.0 L-16,-6.0 A3.7199999999999998,6.0 0 0 1 -16,6.0 L-25,6.0 Z" fill="#fff" stroke-width="1.08"/>
<ellipse cx="-25" cy="0" rx="3.72" ry="6.0" fill="#fff" stroke-width="1.08"/>
<path d="M-21,-6 L-21,6" stroke-width="0.72" fill="none"/>
<path d="M-33,-5.0 L-25,-5.0 A3.1,5.0 0 0 1 -25,5.0 L-33,5.0 Z" fill="#f0f0f0" stroke-width="1.08"/>
<ellipse cx="-33" cy="0" rx="3.10" ry="5.0" fill="#f0f0f0" stroke-width="1.08"/>
<path d="M-32,-2.5 L-26,-2.5 M-32,0 L-26,0 M-32,2.5 L-26,2.5" stroke-width="0.60" fill="none" stroke="#555"/>
<ellipse cx="-33" cy="0" rx="2.6" ry="4.2" fill="#ddd" stroke-width="0.96"/>
<path d="M-33,-4.2 L-33,-2 M-35,0 L-31,0 M-33,2 L-33,4.2" stroke-width="0.72" fill="none"/><ellipse cx="-33.2" cy="0" rx="1" ry="1.6" fill="#666" stroke="none"/>
</g>
<g transform="translate(265.5 317) rotate(-29.5)" stroke="#2a2a2a" stroke-width="1.08" fill="#fff" stroke-linejoin="round"><path d="M0,-10.4 L3,-10.4 A5.6,10.4 0 0 1 3,10.4 L0,10.4 Z" fill="#fff"/><ellipse cx="0" cy="0" rx="5.6" ry="10.4" fill="#fff" stroke-width="1.20" /><ellipse cx="0.3" cy="0" rx="3.808" ry="7.279999999999999" fill="#fff" stroke-width="0.96" /><ellipse cx="0.8" cy="0" rx="3.08" ry="6.032" fill="none" stroke-width="0.72" /></g>
<g transform="translate(247.3 327.2) rotate(-29.5)" stroke="#2a2a2a" stroke-width="1.08" fill="#fff" stroke-linejoin="round"><path d="M0,-13.8 L5,-13.8 A6.3,13.8 0 0 1 5,13.8 L0,13.8 Z" fill="#fff"/><ellipse cx="0" cy="0" rx="6.3" ry="13.8" fill="#fff" stroke-width="1.08" /><path d="M0.34,-8.52 L0.49,-12.37" stroke-width="0.84" fill="none" stroke="#444"/><path d="M1.21,-8.13 L1.76,-11.81" stroke-width="0.84" fill="none" stroke="#444"/><path d="M2.02,-7.32 L2.93,-10.63" stroke-width="0.84" fill="none" stroke="#444"/><path d="M2.72,-6.13 L3.96,-8.90" stroke-width="0.84" fill="none" stroke="#444"/><path d="M3.29,-4.62 L4.77,-6.71" stroke-width="0.84" fill="none" stroke="#444"/><path d="M3.68,-2.87 L5.34,-4.17" stroke-width="0.84" fill="none" stroke="#444"/><path d="M3.88,-0.97 L5.63,-1.41" stroke-width="0.84" fill="none" stroke="#444"/><path d="M3.88,0.97 L5.63,1.41" stroke-width="0.84" fill="none" stroke="#444"/><path d="M3.68,2.87 L5.34,4.17" stroke-width="0.84" fill="none" stroke="#444"/><path d="M3.29,4.62 L4.77,6.71" stroke-width="0.84" fill="none" stroke="#444"/><path d="M2.72,6.13 L3.96,8.90" stroke-width="0.84" fill="none" stroke="#444"/><path d="M2.02,7.32 L2.93,10.63" stroke-width="0.84" fill="none" stroke="#444"/><path d="M1.21,8.13 L1.76,11.81" stroke-width="0.84" fill="none" stroke="#444"/><path d="M0.34,8.52 L0.49,12.37" stroke-width="0.84" fill="none" stroke="#444"/><ellipse cx="0.2" cy="0" rx="3.78" ry="8.28" fill="none" stroke-width="0.72" /><path d="M-4,-6.9 L0,-6.9 A2.90,6.9 0 0 1 0,6.9 L-4,6.9 Z" fill="#fff" stroke-width="1.08"/><ellipse cx="-4" cy="0" rx="2.898" ry="6.9" fill="#fff" stroke-width="1.08" /><ellipse cx="-3.9" cy="0" rx="1.7388" ry="4.14" fill="#fff" stroke-width="0.84" /></g>
<g transform="translate(218 343) rotate(-29.5)" stroke="#2a2a2a" stroke-width="1.08" fill="#fff" stroke-linejoin="round"><ellipse cx="11" cy="0" rx="7.6" ry="17.1" fill="none" stroke="#2a2a2a" stroke-width="3.60" stroke-linecap="round" stroke-dasharray="0.01,4.3"/><path d="M0,-16.5 L11,-16.5 A7,16.5 0 0 1 11,16.5 L0,16.5 Z" fill="#fff"/><path d="M1.22,-16.25 L12.22,-16.25" stroke-width="0.84" fill="none"/><path d="M3.32,-14.52 L14.32,-14.52" stroke-width="0.84" fill="none"/><path d="M5.09,-11.32 L16.09,-11.32" stroke-width="0.84" fill="none"/><path d="M6.34,-6.97 L17.34,-6.97" stroke-width="0.84" fill="none"/><path d="M6.95,-1.92 L17.95,-1.92" stroke-width="0.84" fill="none"/><path d="M6.86,3.34 L17.86,3.34" stroke-width="0.84" fill="none"/><path d="M6.06,8.25 L17.06,8.25" stroke-width="0.84" fill="none"/><path d="M4.65,12.33 L15.65,12.33" stroke-width="0.84" fill="none"/><path d="M2.77,15.15 L13.77,15.15" stroke-width="0.84" fill="none"/><path d="M0.61,16.44 L11.61,16.44" stroke-width="0.84" fill="none"/><ellipse cx="0" cy="0" rx="7.6" ry="17.1" fill="none" stroke-width="3.60" stroke-linecap="round" stroke-dasharray="0.01,4.3"/><ellipse cx="0" cy="0" rx="7.6" ry="17.1" fill="none" stroke-width="2.28" stroke="#fff" stroke-linecap="round" stroke-dasharray="0.01,4.3"/><ellipse cx="0" cy="0" rx="7" ry="16.5" fill="#fff" stroke-width="1.08" /><ellipse cx="0.3" cy="0" rx="5.46" ry="13.200000000000001" fill="#fff" stroke-width="0.84" /><ellipse cx="0.6" cy="0" rx="2.24" ry="5.28" fill="#fff" stroke-width="0.96" /><path d="M1.12,-4.57 L2.73,-11.43" stroke-width="0.96" fill="none"/><path d="M2.24,0.00 L5.46,0.00" stroke-width="0.96" fill="none"/><path d="M1.12,4.57 L2.73,11.43" stroke-width="0.96" fill="none"/><path d="M-1.12,4.57 L-2.73,11.43" stroke-width="0.96" fill="none"/><path d="M-2.24,0.00 L-5.46,0.00" stroke-width="0.96" fill="none"/><path d="M-1.12,-4.57 L-2.73,-11.43" stroke-width="0.96" fill="none"/><ellipse cx="2.10" cy="8.25" rx="1.75" ry="2.97" fill="#ccc" stroke-width="0.60"/></g>
<g transform="translate(197.8 356.7) rotate(-29.5)" stroke="#2a2a2a" stroke-width="1.08" fill="#fff" stroke-linejoin="round"><ellipse cx="0" cy="0" rx="6.5" ry="13.6" fill="#f4f4f4" stroke-width="1.08" /><ellipse cx="0.5" cy="0" rx="3.25" ry="7.072" fill="#fff" stroke-width="0.96" /><ellipse cx="0" cy="0" rx="6.5" ry="13.6" fill="none" stroke-width="0.48" /><ellipse cx="-1.30" cy="-11.15" rx="0.9" ry="1.1" fill="#333" stroke="none"/><ellipse cx="1.95" cy="10.88" rx="0.9" ry="1.1" fill="#333" stroke="none"/><ellipse cx="-3.25" cy="8.16" rx="0.8" ry="1" fill="#333" stroke="none"/></g>
<g transform="translate(178 359) rotate(-29.5)" stroke="#2a2a2a" stroke-width="1.08" fill="#fff" stroke-linejoin="round"><path d="M2.5,-1.7 L9,-1.7 L9,1.7 L2.5,1.7 Z" fill="#ddd" stroke-width="0.84"/><path d="M4.5,-1.7 L4.5,1.7 M6,-1.7 L6,1.7 M7.5,-1.7 L7.5,1.7" stroke-width="0.60" fill="none"/><path d="M0,-3.3 L3,-3.3 A1.39,3.3 0 0 1 3,3.3 L0,3.3 Z" fill="#ccc" stroke-width="1.08"/><ellipse cx="0" cy="0" rx="1.9" ry="3.3" fill="#eee" stroke-width="1.08" /><ellipse cx="0" cy="0" rx="0.9" ry="1.6" fill="#333" stroke-width="0.48" /></g>
<g transform="translate(168.5 372) rotate(-29.5)" stroke="#2a2a2a" stroke-width="1.08" fill="#fff" stroke-linejoin="round"><polygon points="8.20,4.25 3.00,8.50 -2.20,4.25 -2.20,-4.25 3.00,-8.50 8.20,-4.25" fill="#eee" stroke-width="1.08"/><path d="M5.20,4.25 l3,0" stroke-width="0.96" fill="none"/><path d="M0.00,8.50 l3,0" stroke-width="0.96" fill="none"/><path d="M5.20,-4.25 l3,0" stroke-width="0.96" fill="none"/><polygon points="5.20,4.25 0.00,8.50 -5.20,4.25 -5.20,-4.25 -0.00,-8.50 5.20,-4.25" fill="#fff" stroke-width="1.20"/><ellipse cx="0.2" cy="0" rx="3.3000000000000003" ry="4.675000000000001" fill="#fff" stroke-width="0.96" /><path d="M3.30,0.00 L4.80,0.00" stroke-width="1.56" fill="none"/><path d="M1.65,4.05 L2.40,5.89" stroke-width="1.56" fill="none"/><path d="M-1.65,4.05 L-2.40,5.89" stroke-width="1.56" fill="none"/><path d="M-3.30,0.00 L-4.80,0.00" stroke-width="1.56" fill="none"/><path d="M-1.65,-4.05 L-2.40,-5.89" stroke-width="1.56" fill="none"/><path d="M1.65,-4.05 L2.40,-5.89" stroke-width="1.56" fill="none"/><ellipse cx="0.3" cy="0" rx="1.6800000000000002" ry="2.3800000000000003" fill="#aaa" stroke-width="0.60" /></g>
<g transform="translate(284.6 316.5) rotate(-29.5)" stroke="#2a2a2a" stroke-width="1.08" fill="#fff" stroke-linejoin="round"><rect x="-3.3" y="-1.2" width="6.6" height="2.4" rx="1.2" fill="#fff" stroke-width="0.96"/></g>
<g transform="translate(307 352) rotate(-29.5)" stroke="#2a2a2a" stroke-width="1.08" fill="#fff" stroke-linejoin="round"><rect x="-3.3" y="-1.2" width="6.6" height="2.4" rx="1.2" fill="#fff" stroke-width="0.96"/></g>
<g transform="translate(281.8 381) rotate(-29.5)" stroke="#2a2a2a" stroke-width="1.08" fill="#fff" stroke-linejoin="round"><path d="M0,-10.6 L3,-10.6 A5.8,10.6 0 0 1 3,10.6 L0,10.6 Z" fill="#fff"/><ellipse cx="0" cy="0" rx="5.8" ry="10.6" fill="#fff" stroke-width="1.20" /><ellipse cx="0.3" cy="0" rx="3.944" ry="7.419999999999999" fill="#fff" stroke-width="0.96" /><ellipse cx="0.8" cy="0" rx="3.19" ry="6.148" fill="none" stroke-width="0.72" /></g>
<g transform="translate(261.5 392.2) rotate(-29.5)" stroke="#2a2a2a" stroke-width="1.08" fill="#fff" stroke-linejoin="round"><path d="M0,-14.8 L5,-14.8 A6.8,14.8 0 0 1 5,14.8 L0,14.8 Z" fill="#fff"/><ellipse cx="0" cy="0" rx="6.8" ry="14.8" fill="#fff" stroke-width="1.08" /><path d="M0.37,-9.14 L0.53,-13.27" stroke-width="0.84" fill="none" stroke="#444"/><path d="M1.31,-8.72 L1.90,-12.66" stroke-width="0.84" fill="none" stroke="#444"/><path d="M2.18,-7.85 L3.17,-11.40" stroke-width="0.84" fill="none" stroke="#444"/><path d="M2.94,-6.57 L4.27,-9.54" stroke-width="0.84" fill="none" stroke="#444"/><path d="M3.55,-4.96 L5.15,-7.19" stroke-width="0.84" fill="none" stroke="#444"/><path d="M3.97,-3.08 L5.76,-4.47" stroke-width="0.84" fill="none" stroke="#444"/><path d="M4.19,-1.04 L6.08,-1.52" stroke-width="0.84" fill="none" stroke="#444"/><path d="M4.19,1.04 L6.08,1.52" stroke-width="0.84" fill="none" stroke="#444"/><path d="M3.97,3.08 L5.76,4.47" stroke-width="0.84" fill="none" stroke="#444"/><path d="M3.55,4.96 L5.15,7.19" stroke-width="0.84" fill="none" stroke="#444"/><path d="M2.94,6.57 L4.27,9.54" stroke-width="0.84" fill="none" stroke="#444"/><path d="M2.18,7.85 L3.17,11.40" stroke-width="0.84" fill="none" stroke="#444"/><path d="M1.31,8.72 L1.90,12.66" stroke-width="0.84" fill="none" stroke="#444"/><path d="M0.37,9.14 L0.53,13.27" stroke-width="0.84" fill="none" stroke="#444"/><ellipse cx="0.2" cy="0" rx="4.08" ry="8.88" fill="none" stroke-width="0.72" /><path d="M-4,-7.4 L0,-7.4 A3.11,7.4 0 0 1 0,7.4 L-4,7.4 Z" fill="#fff" stroke-width="1.08"/><ellipse cx="-4" cy="0" rx="3.108" ry="7.4" fill="#fff" stroke-width="1.08" /><ellipse cx="-3.9" cy="0" rx="1.8648" ry="4.44" fill="#fff" stroke-width="0.84" /></g>
<g transform="translate(234 409) rotate(-29.5)" stroke="#2a2a2a" stroke-width="1.08" fill="#fff" stroke-linejoin="round"><ellipse cx="11" cy="0" rx="7.8" ry="17.6" fill="none" stroke="#2a2a2a" stroke-width="3.60" stroke-linecap="round" stroke-dasharray="0.01,4.3"/><path d="M0,-17 L11,-17 A7.2,17 0 0 1 11,17 L0,17 Z" fill="#fff"/><path d="M1.25,-16.74 L12.25,-16.74" stroke-width="0.84" fill="none"/><path d="M3.42,-14.96 L14.42,-14.96" stroke-width="0.84" fill="none"/><path d="M5.24,-11.67 L16.24,-11.67" stroke-width="0.84" fill="none"/><path d="M6.53,-7.18 L17.53,-7.18" stroke-width="0.84" fill="none"/><path d="M7.15,-1.97 L18.15,-1.97" stroke-width="0.84" fill="none"/><path d="M7.05,3.44 L18.05,3.44" stroke-width="0.84" fill="none"/><path d="M6.24,8.50 L17.24,8.50" stroke-width="0.84" fill="none"/><path d="M4.79,12.70 L15.79,12.70" stroke-width="0.84" fill="none"/><path d="M2.85,15.61 L13.85,15.61" stroke-width="0.84" fill="none"/><path d="M0.63,16.94 L11.63,16.94" stroke-width="0.84" fill="none"/><ellipse cx="0" cy="0" rx="7.8" ry="17.6" fill="none" stroke-width="3.60" stroke-linecap="round" stroke-dasharray="0.01,4.3"/><ellipse cx="0" cy="0" rx="7.8" ry="17.6" fill="none" stroke-width="2.28" stroke="#fff" stroke-linecap="round" stroke-dasharray="0.01,4.3"/><ellipse cx="0" cy="0" rx="7.2" ry="17" fill="#fff" stroke-width="1.08" /><ellipse cx="0.3" cy="0" rx="5.6160000000000005" ry="13.600000000000001" fill="#fff" stroke-width="0.84" /><ellipse cx="0.6" cy="0" rx="2.3040000000000003" ry="5.44" fill="#fff" stroke-width="0.96" /><path d="M1.15,-4.71 L2.81,-11.78" stroke-width="0.96" fill="none"/><path d="M2.30,0.00 L5.62,0.00" stroke-width="0.96" fill="none"/><path d="M1.15,4.71 L2.81,11.78" stroke-width="0.96" fill="none"/><path d="M-1.15,4.71 L-2.81,11.78" stroke-width="0.96" fill="none"/><path d="M-2.30,0.00 L-5.62,0.00" stroke-width="0.96" fill="none"/><path d="M-1.15,-4.71 L-2.81,-11.78" stroke-width="0.96" fill="none"/><ellipse cx="2.16" cy="8.50" rx="1.80" ry="3.06" fill="#ccc" stroke-width="0.60"/></g>
<g transform="translate(214.5 421.2) rotate(-29.5)" stroke="#2a2a2a" stroke-width="1.08" fill="#fff" stroke-linejoin="round"><ellipse cx="0" cy="0" rx="6.8" ry="14.2" fill="#f4f4f4" stroke-width="1.08" /><ellipse cx="0.5" cy="0" rx="3.4" ry="7.3839999999999995" fill="#fff" stroke-width="0.96" /><ellipse cx="0" cy="0" rx="6.8" ry="14.2" fill="none" stroke-width="0.48" /><ellipse cx="-1.36" cy="-11.64" rx="0.9" ry="1.1" fill="#333" stroke="none"/><ellipse cx="2.04" cy="11.36" rx="0.9" ry="1.1" fill="#333" stroke="none"/><ellipse cx="-3.40" cy="8.52" rx="0.8" ry="1" fill="#333" stroke="none"/></g>
<g transform="translate(196 443.5) rotate(-29.5)" stroke="#2a2a2a" stroke-width="1.08" fill="#fff" stroke-linejoin="round"><path d="M2.5,-1.7 L9,-1.7 L9,1.7 L2.5,1.7 Z" fill="#ddd" stroke-width="0.84"/><path d="M4.5,-1.7 L4.5,1.7 M6,-1.7 L6,1.7 M7.5,-1.7 L7.5,1.7" stroke-width="0.60" fill="none"/><path d="M0,-3.3 L3,-3.3 A1.39,3.3 0 0 1 3,3.3 L0,3.3 Z" fill="#ccc" stroke-width="1.08"/><ellipse cx="0" cy="0" rx="1.9" ry="3.3" fill="#eee" stroke-width="1.08" /><ellipse cx="0" cy="0" rx="0.9" ry="1.6" fill="#333" stroke-width="0.48" /></g>
<g transform="translate(184 439) rotate(-29.5)" stroke="#2a2a2a" stroke-width="1.08" fill="#fff" stroke-linejoin="round"><polygon points="8.63,4.40 3.00,8.80 -2.63,4.40 -2.63,-4.40 3.00,-8.80 8.63,-4.40" fill="#eee" stroke-width="1.08"/><path d="M5.63,4.40 l3,0" stroke-width="0.96" fill="none"/><path d="M0.00,8.80 l3,0" stroke-width="0.96" fill="none"/><path d="M5.63,-4.40 l3,0" stroke-width="0.96" fill="none"/><polygon points="5.63,4.40 0.00,8.80 -5.63,4.40 -5.63,-4.40 -0.00,-8.80 5.63,-4.40" fill="#fff" stroke-width="1.20"/><ellipse cx="0.2" cy="0" rx="3.575" ry="4.840000000000001" fill="#fff" stroke-width="0.96" /><path d="M3.58,0.00 L5.20,0.00" stroke-width="1.56" fill="none"/><path d="M1.79,4.19 L2.60,6.10" stroke-width="1.56" fill="none"/><path d="M-1.79,4.19 L-2.60,6.10" stroke-width="1.56" fill="none"/><path d="M-3.58,0.00 L-5.20,0.00" stroke-width="1.56" fill="none"/><path d="M-1.79,-4.19 L-2.60,-6.10" stroke-width="1.56" fill="none"/><path d="M1.79,-4.19 L2.60,-6.10" stroke-width="1.56" fill="none"/><ellipse cx="0.3" cy="0" rx="1.8200000000000003" ry="2.4640000000000004" fill="#aaa" stroke-width="0.60" /></g>
<!-- plate 20 -->
<g stroke="#2a2a2a" stroke-width="1.08" fill="#fff" stroke-linejoin="round" stroke-linecap="round">
  <path d="M312,193 L311.5,206 L315,207 L314,191.5 Z" fill="#ddd" stroke-width="0.84"/>
  <path d="M313,190 C314,187 317,185.8 320,186.5 L327,188.5 C330,189.5 331.5,191.5 332,194 L334.5,214 C335,218 334,222 331.5,224.5 C329.5,226 326,226 323,225 L319,222.5 C317.5,221 316.5,219 316.3,217 L312.5,194.5 Z"/>
  <path d="M317,193 C317.5,191 319.5,190.5 321.5,191 L326.5,192.5 C328.5,193.5 329.5,195 329.8,197 L331.3,215 C331.5,218 330,220 328,220 L323.5,219.5 C321.5,219 320.5,217.5 320.2,215.5 Z" fill="#fff" stroke-width="0.96"/>
  <path d="M319.5,195 L322,216" fill="none" stroke-width="0.60"/>
  <path d="M319,203 L322,202.5 L323.5,206 L321,208 Z" fill="#ddd" stroke-width="0.72"/>
  <path d="M322.5,223.5 L324,226.5 L328,227.5 L331,225" fill="none" stroke-width="0.84"/>
</g>
<!-- gasket 21 -->
<g stroke="#2a2a2a" stroke-width="1.08" fill="none" stroke-linejoin="round">
  <path d="M336,199.5 C336,197 338,195.5 340.5,195.6 L346.5,196.5 C349.5,197 351,199 351.5,201.5 L354,219 C354.3,222.5 352.5,225 349.5,225.3 L343,225.5 C340,225.5 338,223.5 337.8,220.5 Z" fill="#fff"/>
  <path d="M338,200 C338,198.5 339.5,197.5 341,197.6 L346,198.3 C348.5,198.8 349.5,200.3 349.8,202.3 L352,219 C352.2,221.6 351,223 349,223.3 L343.5,223.5 C341.5,223.5 340,222 339.8,220 Z" stroke-width="1.92" stroke="#222"/>
  <path d="M340.5,201.5 C340.5,200.5 341.5,200 342.5,200 L346,200.5 C347.5,200.8 348.2,202 348.3,203 L350,218.5 C350,220 349,221 347.8,221 L344,221 C342.5,221 341.8,220 341.6,219 Z" fill="#fff" stroke-width="0.84"/>
  <path d="M343.5,203 L347,203.5 L347.5,206.5 L344,206 Z" fill="#ccc" stroke-width="0.72"/>
  <path d="M344,207 C344,205.8 345.5,205.5 346,206.5 L347,212 C347,213.5 345.5,213.8 345,212.5 Z" fill="#fff" stroke-width="0.72"/>
</g>
<!-- part 22 -->
<g stroke="#2a2a2a" stroke-width="0.96" fill="#fff" stroke-linejoin="round">
  <path d="M358,206 C358,204.5 359.5,203.7 361,203.8 L366,204.5 C368,205 369,206.5 369,208 L370,225.5 C370,227.5 368.5,229 366.5,228.8 L362,228 C360,227.5 359,226 359,224.5 Z"/>
  <path d="M358.5,209 L360,208 L360.5,210.5 L359,211 Z M367.5,207 L369,208.5 L368,210 Z" fill="#333" stroke-width="0.48"/>
  <path d="M360,214 L368,214 M360,217 L368.5,217 M360.5,220 L369,220 M361,223 L369,223 M362,213 L362.5,226 M364.5,213 L365,227 M367,213 L367.5,227" fill="none" stroke="#444" stroke-width="0.72"/>
  <path d="M361,214.5 L363.5,214.5 L363.5,218 L361,218 Z M364.5,219 L367,219 L367,222.5 L364.5,222.5 Z" fill="#888" stroke-width="0.36"/>
</g>
<!-- screw 19 -->
<g stroke="#222" stroke-width="0.96" fill="#ccc" stroke-linejoin="round">
  <path d="M305.5,216 L311,216.5 L311,219 L305.5,219 Z" fill="#888"/>
  <ellipse cx="305" cy="217.2" rx="2.6" ry="3.6" transform="rotate(15 305 217.2)" fill="#bbb"/>
  <ellipse cx="304.6" cy="217" rx="1.3" ry="1.9" fill="#444" stroke="none"/>
</g>

<!-- O-rings 13 -->
<g stroke="#2a2a2a" stroke-width="1.08" fill="none">
  <ellipse cx="364.6" cy="260.5" rx="4.6" ry="5.3" transform="rotate(-20 364.6 260.5)"/>
  <ellipse cx="364.9" cy="260.4" rx="3.5" ry="4.2" transform="rotate(-20 364.9 260.4)" stroke-width="0.60" stroke="#777"/>
  <ellipse cx="380.7" cy="325.2" rx="4.6" ry="5.3" transform="rotate(-20 380.7 325.2)"/>
  <ellipse cx="381" cy="325.1" rx="3.5" ry="4.2" transform="rotate(-20 381 325.1)" stroke-width="0.60" stroke="#777"/>
</g>
<!-- bolts 23 -->
<g transform="translate(418.4 346.6) rotate(-29.5)" stroke="#2a2a2a" stroke-width="1.08" fill="#fff" stroke-linejoin="round">
  <path d="M0,-9.4 L3.8,-9.4 A4.5,9.4 0 0 1 3.8,9.4 L0,9.4 Z" fill="#fff" stroke-width="1.20"/>
  <path d="M1.4,-9.3 A4.5,9.4 0 0 1 1.4,9.3 M2.5,-9.3 A4.5,9.4 0 0 1 2.5,9.3 M3.4,-9.3 A4.5,9.4 0 0 1 3.4,9.3" fill="none" stroke-width="0.72" stroke="#444"/>
  <ellipse cx="0" cy="0" rx="4.5" ry="9.4" fill="#fff" stroke-width="1.20"/>
  <path d="M-14.5,-2.4 L0.5,-2.4 L0.5,2.4 L-14.5,2.4 Z" fill="#fff" stroke-width="1.08"/>
  <ellipse cx="0.5" cy="0" rx="1.1" ry="2.4" fill="#fff" stroke-width="0.72"/>
  <path d="M-16,-2.1 L-8,-2.1 L-8,2.1 L-16,2.1 Z" fill="#999" stroke-width="0.96"/>
  <path d="M-14.5,-2.1 L-14.5,2.1 M-13,-2.1 L-13,2.1 M-11.5,-2.1 L-11.5,2.1 M-10,-2.1 L-10,2.1" stroke-width="0.60" stroke="#ddd" fill="none"/>
  <ellipse cx="-16" cy="0" rx="1" ry="2.1" fill="#bbb" stroke-width="0.84"/>
</g>
<g transform="translate(446.6 354.2) rotate(-29.5)" stroke="#2a2a2a" stroke-width="1.08" fill="#fff" stroke-linejoin="round">
  <path d="M0,-9.4 L3.8,-9.4 A4.5,9.4 0 0 1 3.8,9.4 L0,9.4 Z" fill="#fff" stroke-width="1.20"/>
  <path d="M1.4,-9.3 A4.5,9.4 0 0 1 1.4,9.3 M2.5,-9.3 A4.5,9.4 0 0 1 2.5,9.3 M3.4,-9.3 A4.5,9.4 0 0 1 3.4,9.3" fill="none" stroke-width="0.72" stroke="#444"/>
  <ellipse cx="0" cy="0" rx="4.5" ry="9.4" fill="#fff" stroke-width="1.20"/>
  <path d="M-14.5,-2.4 L0.5,-2.4 L0.5,2.4 L-14.5,2.4 Z" fill="#fff" stroke-width="1.08"/>
  <ellipse cx="0.5" cy="0" rx="1.1" ry="2.4" fill="#fff" stroke-width="0.72"/>
  <path d="M-16,-2.1 L-8,-2.1 L-8,2.1 L-16,2.1 Z" fill="#999" stroke-width="0.96"/>
  <path d="M-14.5,-2.1 L-14.5,2.1 M-13,-2.1 L-13,2.1 M-11.5,-2.1 L-11.5,2.1 M-10,-2.1 L-10,2.1" stroke-width="0.60" stroke="#ddd" fill="none"/>
  <ellipse cx="-16" cy="0" rx="1" ry="2.1" fill="#bbb" stroke-width="0.84"/>
</g>

<g stroke="#555" stroke-width="0.96" fill="none" stroke-linecap="round">
  <path d="M148.2,347.8 L164,366"/>
  <path d="M166.6,337 L178,353"/>
  <path d="M181.8,327.6 L191.5,345"/>
  <path d="M208,312.4 L214.6,326.5"/>
  <path d="M235.6,298.3 L243,314"/>
  <path d="M258.8,291.5 L265,307"/>
  <path d="M288,317 L311,322"/>
  <path d="M309,350 L314,330"/>
  <path d="M169.8,453.4 L180.4,445.4"/>
  <path d="M213.2,453.4 L201.9,442"/>
  <path d="M236,443.3 L220.8,432"/>
  <path d="M261.2,432 L249.8,420.6"/>
  <path d="M284,414.3 L275,404"/>
  <path d="M308,401.7 L292.8,389"/>
  <path d="M368.2,265.7 L373.6,285"/>
  <path d="M380,330.5 L385.8,365"/>
  <path d="M330,290 L347.5,311.5"/>
  <path d="M339,370.6 L356,392.5"/>
  <path d="M411.2,356.5 L420.2,386.6"/>
  <path d="M435.5,362.4 L424.8,386.6"/>
  <path d="M289,196.4 L311.5,197.4"/>
  <path d="M289,219.6 L302.4,217.6"/>
  <path d="M343.8,177.5 L344.4,196"/>
  <path d="M371,179 L365,203.4"/>
</g>
<g stroke="#333" stroke-width="1.32" fill="none" stroke-linejoin="round" stroke-linecap="round">
  <path d="M346,311.5 L347,315 L366.5,307.8 L367.8,305.2 L369,306.6 L386.6,299 L385.8,295.8"/>
  <path d="M354.5,391.5 L355.6,395 L375,388.2 L376.2,385.6 L377.4,387.3 L394.6,377 L393.8,373.8"/>
</g>

<g stroke="#444" stroke-width="0.78" fill="none" stroke-dasharray="7,2,1.5,2" stroke-linecap="butt">
<path d="M357,266 L377,254 L398.5,289.4 L408.4,284.8 L425,278"/>
<path d="M370,332 L381,325 L385.3,321.8 L442,289.4 L448,286"/>
<path d="M311,217.5 L389,239 L395.9,274.2 L408.4,276.9"/>
<path d="M244.5,167 L247,183 L451,121 L456,154"/>
<path d="M464.5,188 L478.3,256.5"/>
<path d="M410.5,193.5 L421,186.5"/>
</g>

<g stroke="#444" stroke-width="0.78" fill="none" stroke-dasharray="5,2,1.5,2" stroke-linecap="butt">
<path d="M426,342 L449.3,329"/>
<path d="M454.5,349.5 L476.6,337.2"/>
</g>

<g>
<text x="164.0" y="34.0">31</text>
<text x="164.0" y="52.8">32</text>
<text x="191.0" y="121.0">30</text>
<text x="192.0" y="155.0">29</text>
<text x="504.7" y="105.0">3</text>
<text x="505.0" y="130.0">1</text>
<text x="542.0" y="165.0">6</text>
<text x="543.0" y="191.0">9</text>
<text x="511.0" y="226.5">8</text>
<text x="276.0" y="200.0">20</text>
<text x="275.0" y="224.6">19</text>
<text x="336.8" y="176.0">21</text>
<text x="367.0" y="176.0">22</text>
<text x="379.0" y="221.6">5</text>
<text x="643.5" y="163.8">15</text>
<text x="643.0" y="190.7">24</text>
<text x="642.0" y="208.8">14</text>
<text x="644.0" y="228.0">26</text>
<text x="644.0" y="265.0">28</text>
<text x="644.0" y="283.0">27</text>
<text x="580.5" y="268.0">26</text>
<text x="580.5" y="289.5">25</text>
<text x="140.6" y="345.8">2</text>
<text x="155.5" y="335.7">16</text>
<text x="175.0" y="325.0">4</text>
<text x="200.5" y="310.4">7</text>
<text x="226.0" y="296.5">10</text>
<text x="250.0" y="286.4">17</text>
<text x="310.8" y="327.6">12</text>
<text x="160.7" y="463.0">2</text>
<text x="211.0" y="463.0">16</text>
<text x="237.2" y="452.0">4</text>
<text x="261.5" y="439.5">7</text>
<text x="283.0" y="424.4">10</text>
<text x="308.0" y="410.5">17</text>
<text x="371.0" y="295.0">13</text>
<text x="365.0" y="318.6">18</text>
<text x="381.0" y="375.0">13</text>
<text x="372.0" y="399.0">11</text>
<text x="416.3" y="399.0">23</text>
<text x="47.2" y="465.8" textLength="47.6" lengthAdjust="spacingAndGlyphs">TST00633</text>
</g>
</svg>
</body></html>
